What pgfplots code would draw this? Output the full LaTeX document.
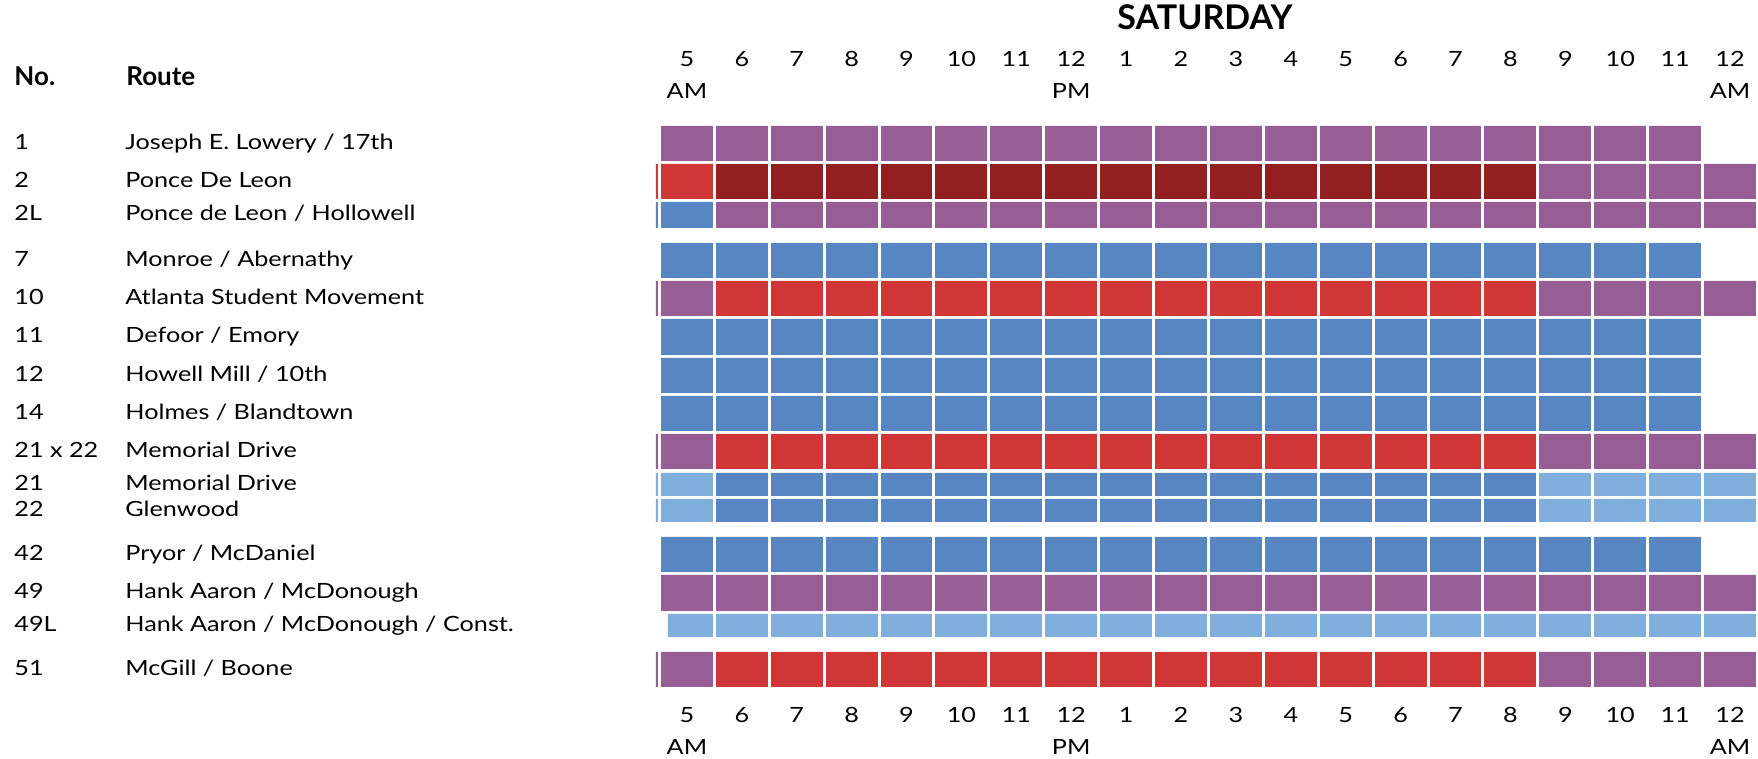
\documentclass[border=0pt]{standalone}
\usepackage{pgfplots}
\pgfplotsset{compat=1.18}
\usepackage{fontspec}
\setmainfont{Lato}[FakeStretch=1.2]
\newfontfamily\headfont{Lato}
\definecolor{cpurple}{RGB}{151,94,150}
\definecolor{cdred}{RGB}{146,32,32}
\definecolor{cred}{RGB}{208,54,54}
\definecolor{cblue}{RGB}{88,134,195}
\definecolor{clblue}{RGB}{128,174,221}
\newcommand{\lab}[2]{\makebox[55.5pt][l]{#1}#2}
\newcommand{\ph}{\phantom{AM}}
\begin{document}
\begin{tikzpicture}
\useasboundingbox (0,0) rectangle (879pt,379.5pt);
\pgfplotsset{base/.style={
  x=27.45pt, y=0.5pt, y dir=reverse,
  xmin=-0.6, xmax=19.5, ymin=110, ymax=700,
  at={(327pt,29.5pt)}, anchor=south west,
  axis line style={draw=none},
  major tick length=0pt, minor tick length=0pt,
  xtick={0,...,19},
  xticklabels={{5\\AM},{6\\\ph},{7\\\ph},{8\\\ph},{9\\\ph},{10\\\ph},{11\\\ph},{12\\PM},
    {1\\\ph},{2\\\ph},{3\\\ph},{4\\\ph},{5\\\ph},{6\\\ph},{7\\\ph},{8\\\ph},{9\\\ph},{10\\\ph},{11\\\ph},{12\\AM}},
  xticklabel style={align=center, inner sep=0pt, font=\fontsize{10.5}{16}\selectfont},
}}
\begin{axis}[base,
  axis on top,
  xticklabel style={anchor=north, yshift=-3.5pt},
  minor xtick={-0.5,0.5,...,18.5},
  xminorgrids=true,
  minor x grid style={white, line width=1.5pt},
  ytick={143.5,181.5,215,260.5,298.5,337,375.5,413.5,451.5,484.5,510.5,554.5,593,625.5,669.5},
  yticklabels={
    \lab{1}{Joseph E. Lowery / 17th},
    \lab{2}{Ponce De Leon},
    \lab{2L}{Ponce de Leon / Hollowell},
    \lab{7}{Monroe / Abernathy},
    \lab{10}{Atlanta Student Movement},
    \lab{11}{Defoor / Emory},
    \lab{12}{Howell Mill / 10th},
    \lab{14}{Holmes / Blandtown},
    \lab{21 x 22}{Memorial Drive},
    \lab{21}{Memorial Drive},
    \lab{22}{Glenwood},
    \lab{42}{Pryor / McDaniel},
    \lab{49}{Hank Aaron / McDonough},
    \lab{49L}{Hank Aaron / McDonough / Const.},
    \lab{51}{McGill / Boone}},
  yticklabel style={anchor=base west, inner sep=0pt, xshift=-320pt, yshift=-3pt,
    font=\fontsize{10.5}{12}\selectfont},
  unbounded coords=jump,
]
% purple cells
\addplot[fill=cpurple, draw=none] coordinates {
 (-0.4727,126) (18.4727,126) (18.4727,161) (-0.4727,161) (nan,nan)
 (15.5,164) (19.4727,164) (19.4727,199) (15.5,199) (nan,nan)
 (0.5,202) (19.4727,202) (19.4727,228) (0.5,228) (nan,nan)
 (-0.564,281) (0.5,281) (0.5,316) (-0.564,316) (nan,nan)
 (15.5,281) (19.4727,281) (19.4727,316) (15.5,316) (nan,nan)
 (-0.564,434) (0.5,434) (0.5,469) (-0.564,469) (nan,nan)
 (15.5,434) (19.4727,434) (19.4727,469) (15.5,469) (nan,nan)
 (-0.4727,575) (19.4727,575) (19.4727,611) (-0.4727,611) (nan,nan)
 (-0.564,652) (0.5,652) (0.5,687) (-0.564,687) (nan,nan)
 (15.5,652) (19.4727,652) (19.4727,687) (15.5,687)
};
% dark red cells
\addplot[fill=cdred, draw=none] coordinates {
 (0.5,164) (15.5,164) (15.5,199) (0.5,199)
};
% red cells
\addplot[fill=cred, draw=none] coordinates {
 (-0.564,164) (0.5,164) (0.5,199) (-0.564,199) (nan,nan)
 (0.5,281) (15.5,281) (15.5,316) (0.5,316) (nan,nan)
 (0.5,434) (15.5,434) (15.5,469) (0.5,469) (nan,nan)
 (0.5,652) (15.5,652) (15.5,687) (0.5,687)
};
% blue cells
\addplot[fill=cblue, draw=none] coordinates {
 (-0.564,202) (0.5,202) (0.5,228) (-0.564,228) (nan,nan)
 (-0.4727,243) (18.4727,243) (18.4727,278) (-0.4727,278) (nan,nan)
 (-0.4727,319) (18.4727,319) (18.4727,355) (-0.4727,355) (nan,nan)
 (-0.4727,358) (18.4727,358) (18.4727,393) (-0.4727,393) (nan,nan)
 (-0.4727,396) (18.4727,396) (18.4727,431) (-0.4727,431) (nan,nan)
 (0.5,473) (15.5,473) (15.5,496) (0.5,496) (nan,nan)
 (0.5,499) (15.5,499) (15.5,522) (0.5,522) (nan,nan)
 (-0.4727,537) (18.4727,537) (18.4727,572) (-0.4727,572)
};
% light blue cells
\addplot[fill=clblue, draw=none] coordinates {
 (-0.564,473) (0.5,473) (0.5,496) (-0.564,496) (nan,nan)
 (15.5,473) (19.4727,473) (19.4727,496) (15.5,496) (nan,nan)
 (-0.564,499) (0.5,499) (0.5,522) (-0.564,522) (nan,nan)
 (15.5,499) (19.4727,499) (19.4727,522) (15.5,522) (nan,nan)
 (-0.345,614) (19.4727,614) (19.4727,637) (-0.345,637)
};
\end{axis}
\begin{axis}[base,
  xticklabel pos=upper,
  xticklabel style={anchor=south, yshift=5.5pt},
  ytick=\empty,
]
\end{axis}
\node[anchor=base west, inner sep=0pt, font=\headfont\bfseries\fontsize{13}{15}\selectfont] at (7pt,336.5pt) {No.};
\node[anchor=base west, inner sep=0pt, font=\headfont\bfseries\fontsize{13}{15}\selectfont] at (63pt,336.5pt) {Route};
\node[anchor=base, inner sep=0pt, font=\headfont\bfseries\fontsize{17}{19}\selectfont] at (602.5pt,364.5pt) {SATURDAY};
\end{tikzpicture}
\end{document}
